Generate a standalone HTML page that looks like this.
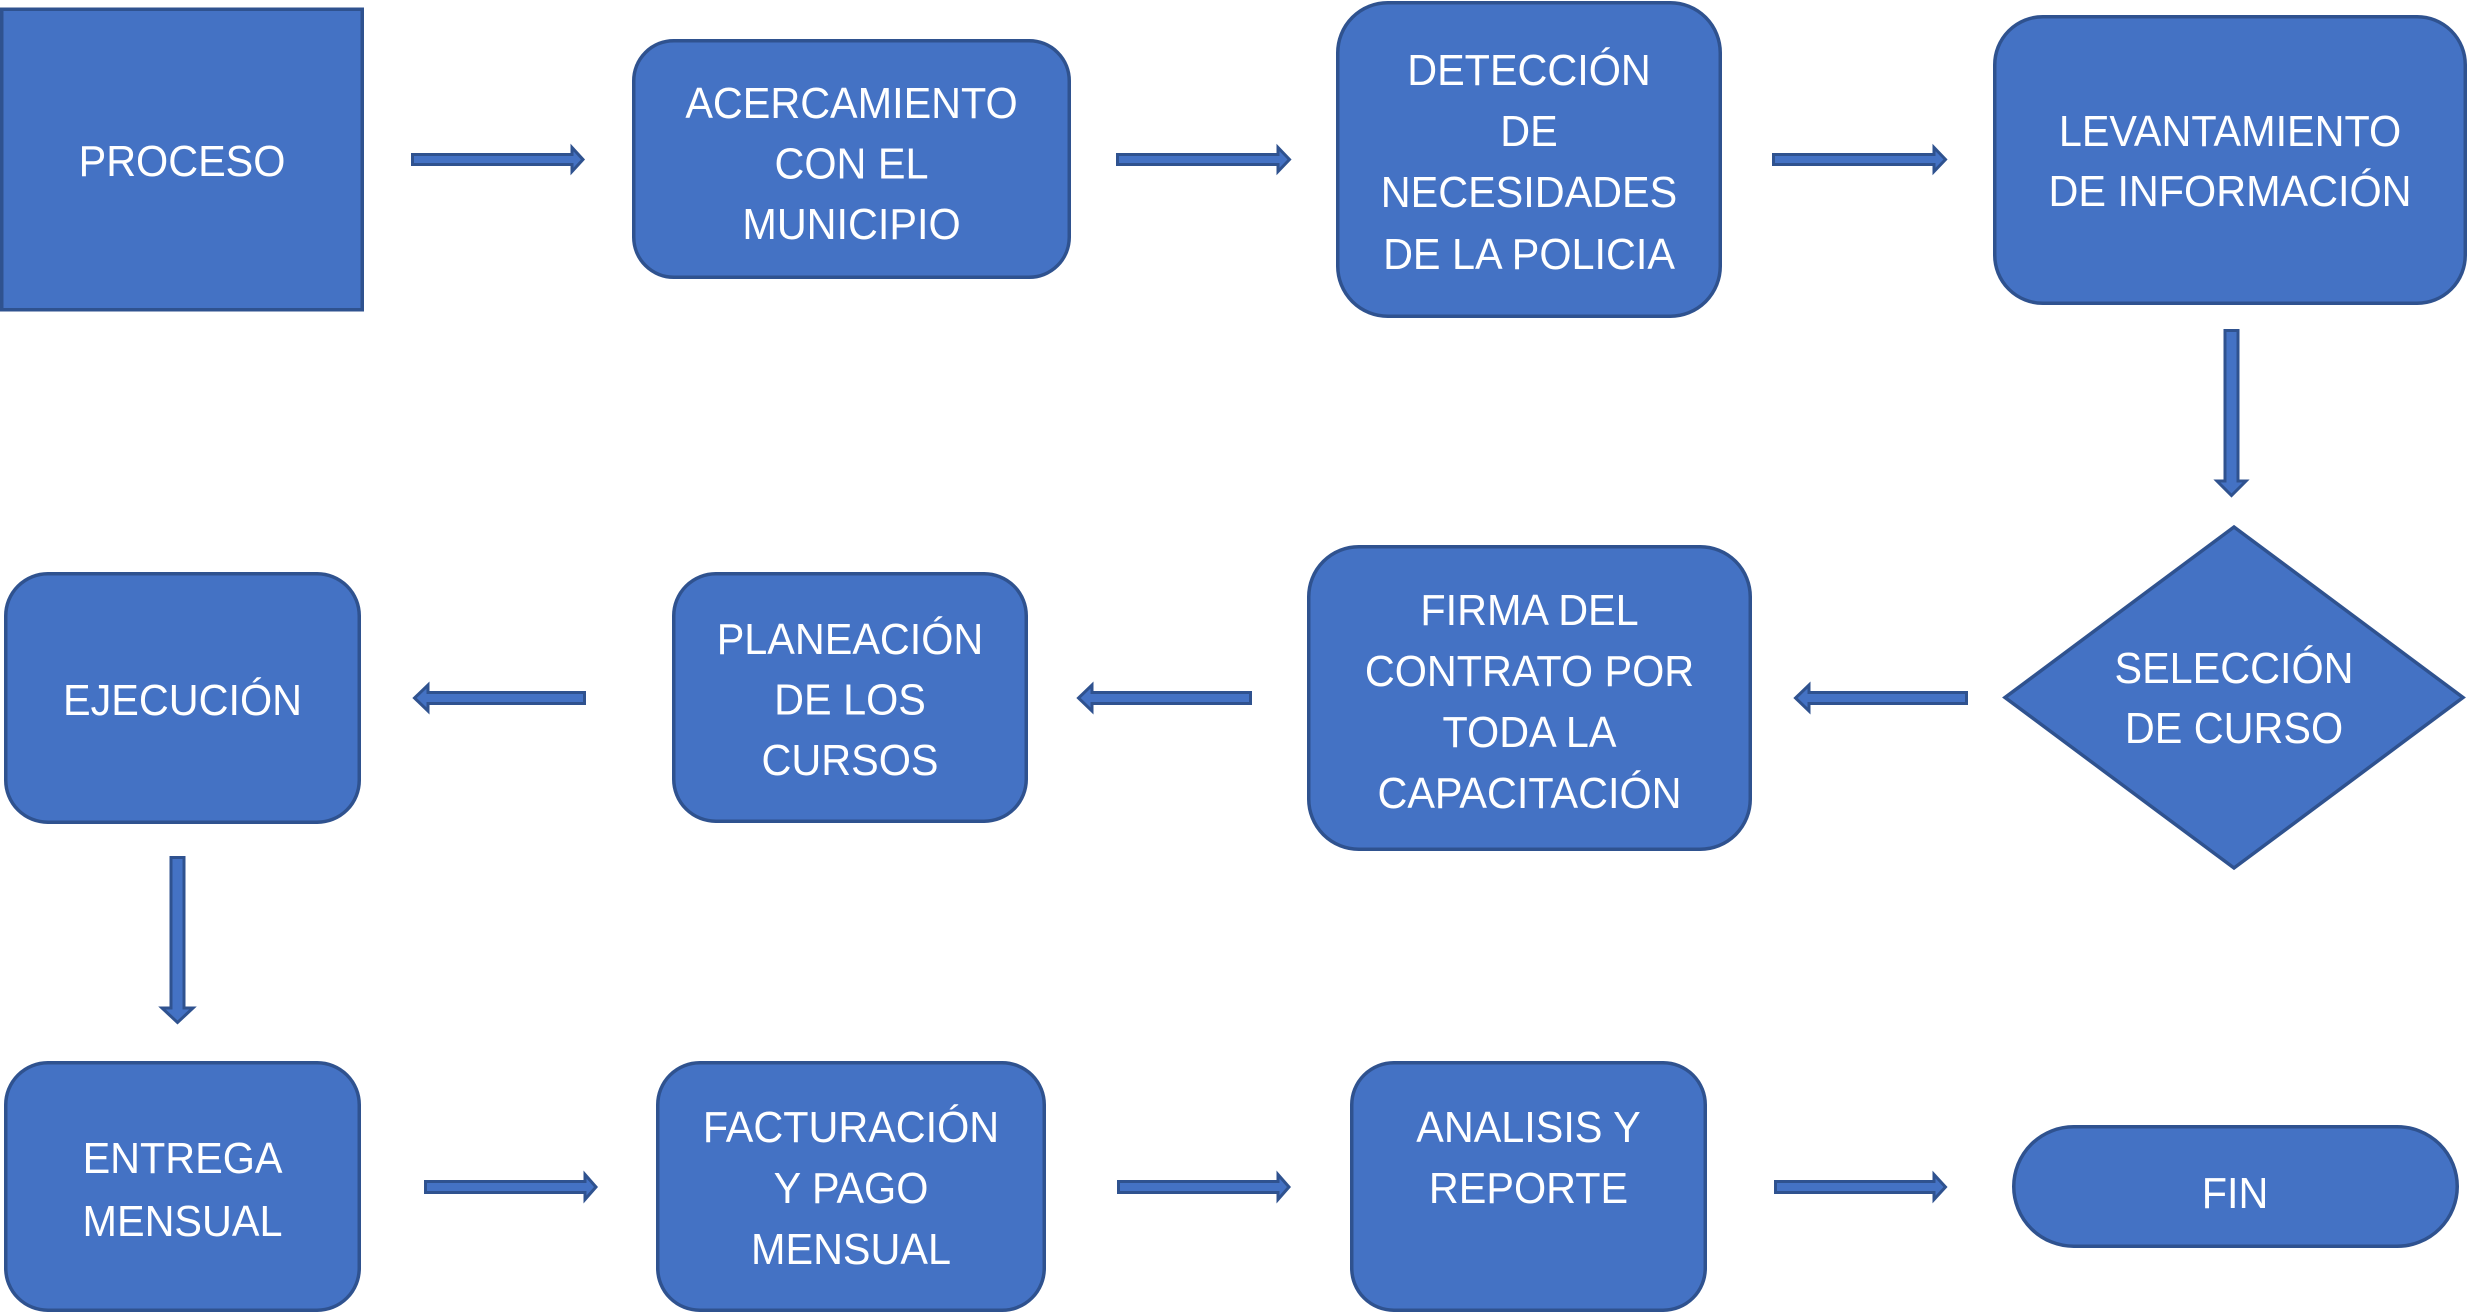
<!DOCTYPE html>
<html>
<head>
<meta charset="utf-8">
<style>
  html, body { margin: 0; padding: 0; background: #ffffff; }
  body { width: 2469px; height: 1313px; overflow: hidden; }
  svg { display: block; }
  .s { fill: #4472C4; stroke: #2F528F; stroke-width: 3.5; }
  .a { fill: #4472C4; stroke: #2F528F; stroke-width: 3; stroke-linejoin: miter; }
  text { font-family: "Liberation Sans", "DejaVu Sans", sans-serif; font-size: 44px; fill: #ffffff; text-anchor: middle; }
</style>
</head>
<body>
<svg width="2469" height="1313" viewBox="0 0 2469 1313" xmlns="http://www.w3.org/2000/svg">
  <!-- Row 1 -->
  <rect class="s" x="1.75" y="9.25" width="360.5" height="300.5"/>
  <g transform="translate(182 0) scale(0.94 1)">
    <text x="0" y="176">PROCESO</text>
  </g>

  <polygon class="a" points="412.5,154.5 572,154.5 572,147.5 583,159.5 572,171.5 572,164.5 412.5,164.5"/>

  <rect class="s" x="633.75" y="40.75" width="435.5" height="236.5" rx="40" ry="40"/>
  <g transform="translate(851.5 0) scale(0.94 1)">
    <text x="0" y="118">ACERCAMIENTO</text>
    <text x="0" y="178.5">CON EL</text>
    <text x="0" y="239">MUNICIPIO</text>
  </g>

  <polygon class="a" points="1117.5,154.5 1278,154.5 1278,147.5 1289.5,159.5 1278,171.5 1278,164.5 1117.5,164.5"/>

  <rect class="s" x="1337.75" y="2.75" width="382.5" height="313.5" rx="50" ry="50"/>
  <g transform="translate(1529 0) scale(0.94 1)">
    <text x="0" y="85">DETECCIÓN</text>
    <text x="0" y="146">DE</text>
    <text x="0" y="207">NECESIDADES</text>
    <text x="0" y="269">DE LA POLICIA</text>
  </g>

  <polygon class="a" points="1773.5,154.5 1934,154.5 1934,147.5 1945.5,159.5 1934,171.5 1934,164.5 1773.5,164.5"/>

  <rect class="s" x="1994.75" y="16.75" width="470.5" height="286.5" rx="48" ry="48"/>
  <g transform="translate(2230 0) scale(0.94 1)">
    <text x="0" y="146">LEVANTAMIENTO</text>
    <text x="0" y="206">DE INFORMACIÓN</text>
  </g>

  <!-- Down arrow 1 -->
  <polygon class="a" points="2225,330.5 2238,330.5 2238,481 2246,481 2231.5,495.5 2217,481 2225,481"/>

  <!-- Row 2 -->
  <polygon class="s" points="2234,527 2463,697.5 2234,868 2005,697.5"/>
  <g transform="translate(2234 0) scale(0.94 1)">
    <text x="0" y="683">SELECCIÓN</text>
    <text x="0" y="743">DE CURSO</text>
  </g>

  <polygon class="a" points="1966.5,692.5 1809,692.5 1809,685 1795.5,698 1809,711 1809,703.5 1966.5,703.5"/>

  <rect class="s" x="1308.75" y="546.75" width="441.5" height="302.5" rx="50" ry="50"/>
  <g transform="translate(1529.5 0) scale(0.94 1)">
    <text x="0" y="625">FIRMA DEL</text>
    <text x="0" y="686">CONTRATO POR</text>
    <text x="0" y="747">TODA LA</text>
    <text x="0" y="808">CAPACITACIÓN</text>
  </g>

  <polygon class="a" points="1250.5,692.5 1092,692.5 1092,685 1078.5,698 1092,711 1092,703.5 1250.5,703.5"/>

  <rect class="s" x="673.75" y="573.75" width="352.5" height="247.5" rx="42" ry="42"/>
  <g transform="translate(850 0) scale(0.94 1)">
    <text x="0" y="654">PLANEACIÓN</text>
    <text x="0" y="714.5">DE LOS</text>
    <text x="0" y="775">CURSOS</text>
  </g>

  <polygon class="a" points="584.5,692.5 428,692.5 428,685 414.5,698 428,711 428,703.5 584.5,703.5"/>

  <rect class="s" x="5.75" y="573.75" width="353.5" height="248.5" rx="42" ry="42"/>
  <g transform="translate(182.5 0) scale(0.94 1)">
    <text x="0" y="715">EJECUCIÓN</text>
  </g>

  <!-- Down arrow 2 -->
  <polygon class="a" points="171,857.5 184,857.5 184,1008 193,1008 177.5,1022.5 162,1008 171,1008"/>

  <!-- Row 3 -->
  <rect class="s" x="5.75" y="1062.75" width="353.5" height="247.5" rx="42" ry="42"/>
  <g transform="translate(182.5 0) scale(0.94 1)">
    <text x="0" y="1173">ENTREGA</text>
    <text x="0" y="1236">MENSUAL</text>
  </g>

  <polygon class="a" points="425.5,1181.5 585,1181.5 585,1174.5 596,1187 585,1199.5 585,1192.5 425.5,1192.5"/>

  <rect class="s" x="657.75" y="1062.75" width="386.5" height="247.5" rx="42" ry="42"/>
  <g transform="translate(851 0) scale(0.94 1)">
    <text x="0" y="1142">FACTURACIÓN</text>
    <text x="0" y="1203">Y PAGO</text>
    <text x="0" y="1264">MENSUAL</text>
  </g>

  <polygon class="a" points="1118.5,1181.5 1278,1181.5 1278,1174.5 1289,1187 1278,1199.5 1278,1192.5 1118.5,1192.5"/>

  <rect class="s" x="1351.75" y="1062.75" width="353.5" height="247.5" rx="42" ry="42"/>
  <g transform="translate(1528.5 0) scale(0.94 1)">
    <text x="0" y="1142">ANALISIS Y</text>
    <text x="0" y="1203">REPORTE</text>
  </g>

  <polygon class="a" points="1775.5,1181.5 1934,1181.5 1934,1174.5 1945.5,1187 1934,1199.5 1934,1192.5 1775.5,1192.5"/>

  <rect class="s" x="2013.75" y="1126.75" width="443.5" height="119.5" rx="60" ry="60"/>
  <g transform="translate(2235 0) scale(0.94 1)">
    <text x="0" y="1208">FIN</text>
  </g>
</svg>
</body>
</html>
